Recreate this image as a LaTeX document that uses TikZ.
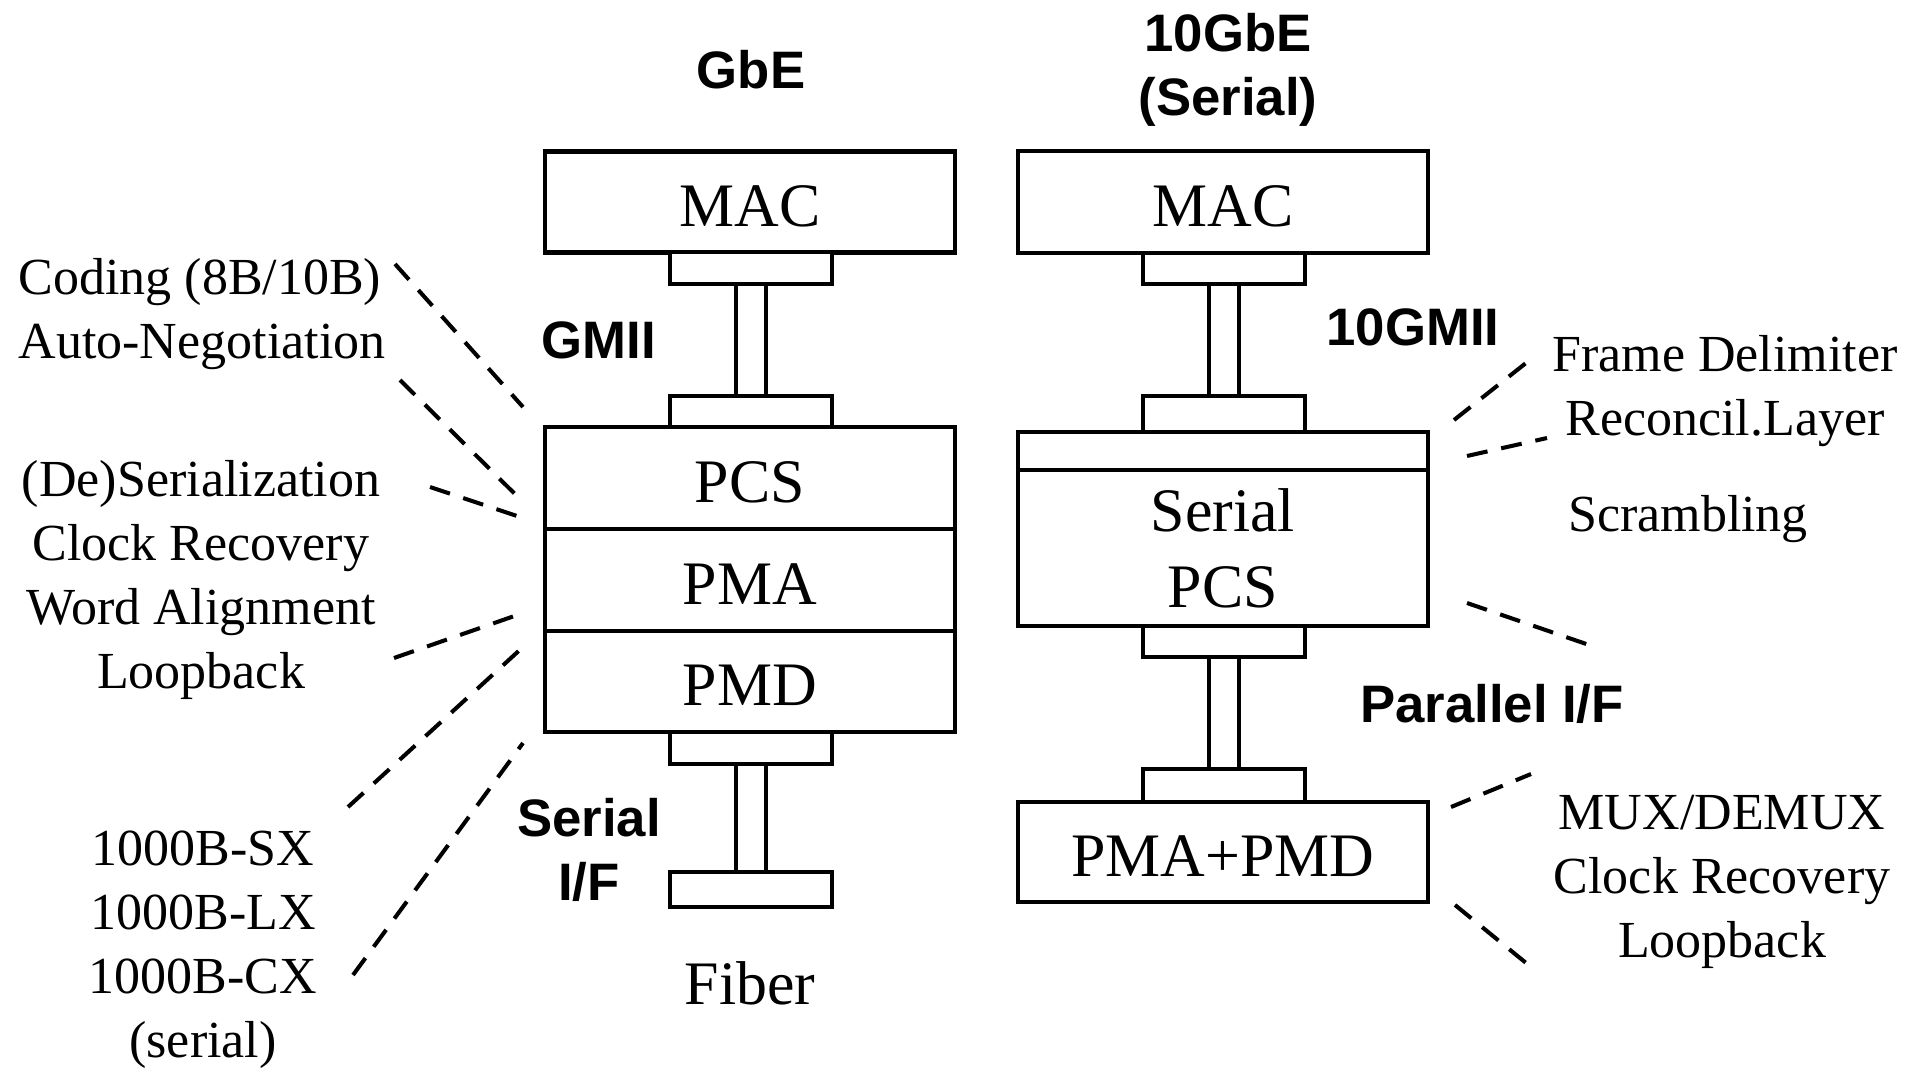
\documentclass[tikz,border=0pt]{standalone}
\usepackage{fontspec}
\setmainfont{Liberation Serif}
\setsansfont{Liberation Sans}
\usepackage{tikz}

\newcommand{\boxfont}{\fontsize{17.6pt}{21.6pt}\selectfont}
\newcommand{\notefont}{\fontsize{14.8pt}{18.2pt}\selectfont}
\newcommand{\tagfont}{\fontsize{15pt}{18.4pt}\selectfont\sffamily\bfseries}

\begin{document}
\begin{tikzpicture}[
  box/.style={draw, fill=white, line width=1.15pt, minimum width=4.1cm, inner sep=0pt, font=\boxfont},
  one/.style={text height=0.54cm, text depth=0.06cm},
  pad/.style={draw, fill=white, line width=1.15pt, minimum width=1.62cm, inner sep=0pt},
  bus/.style={draw, double, double distance=0.26cm, line width=1.15pt},
  lead/.style={draw, line width=1.15pt, dash pattern=on 0.21cm off 0.14cm},
  note/.style={font=\notefont, align=center},
  tag/.style={font=\tagfont, align=center}
]
\useasboundingbox (0,0) rectangle (19.06,-10.68);

\node (tgbe) at (7.51,-0.70) [tag] {GbE};
\node (txge) at (12.28,-0.70) [tag] {10GbE\\(Serial)};

\node (gmac)    at (7.50,-2.02)  [box, one, minimum height=1.01cm] {MAC};
\node (gmacpad) at (7.51,-2.68)  [pad, minimum height=0.32cm] {};
\node (gpcspad) at (7.51,-4.115) [pad, minimum height=0.31cm] {};
\node (gpcs)    at (7.50,-4.78)  [box, one, minimum height=1.02cm] {PCS};
\node (gpma)    at (7.50,-5.80)  [box, one, minimum height=1.02cm] {PMA};
\node (gpmd)    at (7.50,-6.815) [box, one, minimum height=1.01cm] {PMD};
\node (gpmdpad) at (7.51,-7.48)  [pad, minimum height=0.32cm] {};
\node (gfibpad) at (7.51,-8.895) [pad, minimum height=0.35cm] {};
\node (fiber)   at (7.50,-9.83)  [font=\boxfont] {Fiber};
\path (gmacpad) edge[bus] (gpcspad);
\path (gpmdpad) edge[bus] (gfibpad);

\node (tgmii) at (5.99,-3.40) [tag] {GMII};
\node (tser)  at (5.89,-8.50) [tag] {Serial\\I/F};

\node (xmac)     at (12.23,-2.02)  [box, one, minimum height=1.02cm] {MAC};
\node (xmacpad)  at (12.24,-2.685) [pad, minimum height=0.31cm] {};
\node (xpcspad)  at (12.24,-4.14)  [pad, minimum height=0.36cm] {};
\node (xrs)      at (12.23,-4.51)  [box, minimum height=0.38cm] {};
\node (xpcs)     at (12.23,-5.48)  [box, align=center, minimum height=1.56cm] {Serial\\PCS};
\node (xpcsbpad) at (12.24,-6.415) [pad, minimum height=0.31cm] {};
\node (xpmapad)  at (12.24,-7.855) [pad, minimum height=0.33cm] {};
\node (xpma)     at (12.23,-8.52)  [box, one, minimum height=1.00cm] {PMA+PMD};
\path (xmacpad) edge[bus] (xpcspad);
\path (xpcsbpad) edge[bus] (xpmapad);

\node (txgmii) at (14.13,-3.27) [tag] {10GMII};
\node (tpar)   at (14.92,-7.04) [tag] {Parallel I/F};

\node (lcode) at (2.02,-3.14) [note, align=left] {Coding (8B/10B)\\Auto-Negotiation};
\node (lpma)  at (2.01,-5.80) [note] {(De)Serialization\\Clock Recovery\\Word Alignment\\Loopback};
\node (lpmd)  at (2.03,-9.50) [note] {1000B-SX\\1000B-LX\\1000B-CX\\(serial)};
\node (rpcs)  at (17.25,-3.91) [note] {Frame Delimiter\\Reconcil.Layer};
\node (rscr)  at (16.88,-5.19) [note] {Scrambling};
\node (rpma)  at (17.22,-8.82) [note] {MUX/DEMUX\\Clock Recovery\\Loopback};

\coordinate (la1) at (3.95,-2.64);
\coordinate (la2) at (5.23,-4.07);
\coordinate (lb1) at (4.00,-3.80);
\coordinate (lb2) at (5.23,-5.02);
\coordinate (lc1) at (4.30,-4.87);
\coordinate (lc2) at (5.23,-5.18);
\coordinate (ld1) at (3.94,-6.58);
\coordinate (ld2) at (5.23,-6.13);
\coordinate (le1) at (3.48,-8.07);
\coordinate (le2) at (5.23,-6.47);
\coordinate (lf1) at (3.53,-9.75);
\coordinate (lf2) at (5.23,-7.43);
\path (la1) edge[lead] (la2);
\path (lb1) edge[lead] (lb2);
\path (lc1) edge[lead] (lc2);
\path (ld1) edge[lead] (ld2);
\path (le1) edge[lead] (le2);
\path (lf1) edge[lead] (lf2);

\coordinate (rg1) at (14.54,-4.20);
\coordinate (rg2) at (15.31,-3.59);
\coordinate (rh1) at (14.67,-4.56);
\coordinate (rh2) at (15.47,-4.38);
\coordinate (ri1) at (14.67,-6.03);
\coordinate (ri2) at (15.95,-6.47);
\coordinate (rj1) at (14.51,-8.07);
\coordinate (rj2) at (15.31,-7.74);
\coordinate (rk1) at (14.55,-9.05);
\coordinate (rk2) at (15.31,-9.67);
\path (rg1) edge[lead] (rg2);
\path (rh1) edge[lead] (rh2);
\path (ri1) edge[lead] (ri2);
\path (rj1) edge[lead] (rj2);
\path (rk1) edge[lead] (rk2);
\end{tikzpicture}
\end{document}
